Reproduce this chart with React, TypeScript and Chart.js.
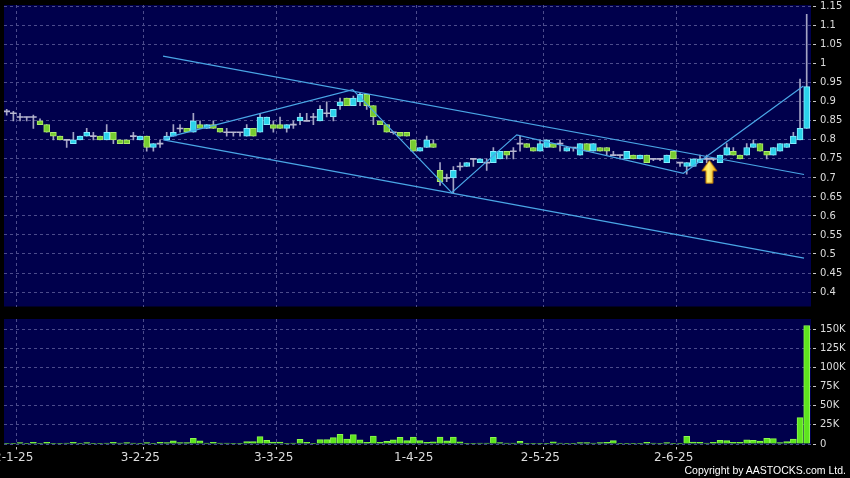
import React, { useEffect, useRef } from 'react';
import { Chart, registerables } from 'chart.js';

Chart.register(...registerables);

// ---------- data ----------
const OPEN = [
  0.875, 0.87, 0.86, 0.86, 0.86, 0.85, 0.84, 0.82, 0.81, 0.8,
  0.79, 0.8, 0.81, 0.81, 0.81, 0.8, 0.82, 0.8, 0.8, 0.81,
  0.8, 0.81, 0.78, 0.79, 0.8, 0.81, 0.83, 0.83, 0.82, 0.84,
  0.83, 0.84, 0.83, 0.82, 0.82, 0.82, 0.81, 0.83, 0.82, 0.84,
  0.84, 0.84, 0.83, 0.84, 0.85, 0.85, 0.86, 0.85, 0.87, 0.86,
  0.89, 0.91, 0.89, 0.9, 0.92, 0.89, 0.85, 0.84, 0.82, 0.82,
  0.82, 0.8, 0.77, 0.78, 0.79, 0.72, 0.7, 0.7, 0.73, 0.73,
  0.75, 0.74, 0.74, 0.74, 0.75, 0.77, 0.77, 0.79, 0.79, 0.78,
  0.77, 0.78, 0.79, 0.79, 0.77, 0.78, 0.76, 0.79, 0.77, 0.78,
  0.78, 0.76, 0.76, 0.75, 0.76, 0.75, 0.76, 0.75, 0.75, 0.74,
  0.77, 0.74, 0.73, 0.73, 0.74, 0.75, 0.75, 0.74, 0.76, 0.77,
  0.76, 0.76, 0.78, 0.79, 0.77, 0.76, 0.77, 0.78, 0.79, 0.8,
  0.83,
];
const HIGH = [
  0.88, 0.875, 0.87, 0.86, 0.865, 0.855, 0.84, 0.82, 0.81, 0.8,
  0.82, 0.81, 0.83, 0.82, 0.81, 0.84, 0.82, 0.8, 0.8, 0.82,
  0.81, 0.81, 0.79, 0.8, 0.82, 0.84, 0.84, 0.83, 0.87, 0.85,
  0.84, 0.85, 0.83, 0.83, 0.82, 0.82, 0.84, 0.83, 0.87, 0.86,
  0.85, 0.86, 0.84, 0.85, 0.87, 0.87, 0.87, 0.89, 0.9, 0.88,
  0.91, 0.91, 0.915, 0.925, 0.92, 0.89, 0.85, 0.84, 0.82, 0.82,
  0.82, 0.8, 0.78, 0.81, 0.8, 0.74, 0.71, 0.73, 0.74, 0.74,
  0.75, 0.75, 0.75, 0.78, 0.77, 0.77, 0.78, 0.81, 0.79, 0.78,
  0.8, 0.8, 0.79, 0.8, 0.78, 0.78, 0.79, 0.79, 0.79, 0.78,
  0.78, 0.77, 0.76, 0.77, 0.76, 0.76, 0.76, 0.75, 0.75, 0.76,
  0.77, 0.74, 0.74, 0.75, 0.76, 0.76, 0.75, 0.76, 0.79, 0.78,
  0.76, 0.79, 0.8, 0.79, 0.77, 0.78, 0.79, 0.79, 0.82, 0.96,
  1.13,
];
const LOW = [
  0.865, 0.85, 0.85, 0.85, 0.83, 0.84, 0.82, 0.8, 0.8, 0.78,
  0.79, 0.8, 0.81, 0.8, 0.8, 0.8, 0.79, 0.79, 0.79, 0.8,
  0.8, 0.77, 0.77, 0.78, 0.8, 0.81, 0.82, 0.82, 0.82, 0.83,
  0.83, 0.83, 0.82, 0.81, 0.81, 0.81, 0.81, 0.81, 0.82, 0.84,
  0.82, 0.83, 0.82, 0.83, 0.84, 0.85, 0.84, 0.85, 0.86, 0.85,
  0.88, 0.89, 0.89, 0.89, 0.88, 0.84, 0.84, 0.82, 0.815, 0.81,
  0.81, 0.77, 0.77, 0.78, 0.78, 0.68, 0.69, 0.66, 0.72, 0.73,
  0.73, 0.74, 0.72, 0.74, 0.75, 0.75, 0.75, 0.77, 0.78, 0.77,
  0.77, 0.78, 0.78, 0.77, 0.77, 0.77, 0.76, 0.77, 0.77, 0.77,
  0.76, 0.76, 0.75, 0.75, 0.75, 0.75, 0.74, 0.745, 0.745, 0.74,
  0.75, 0.73, 0.71, 0.73, 0.74, 0.74, 0.745, 0.74, 0.76, 0.76,
  0.75, 0.76, 0.78, 0.77, 0.75, 0.76, 0.77, 0.78, 0.79, 0.8,
  0.83,
];
const CLOSE = [
  0.875, 0.87, 0.86, 0.86, 0.86, 0.84, 0.82, 0.81, 0.8, 0.8,
  0.8, 0.81, 0.82, 0.81, 0.8, 0.82, 0.8, 0.79, 0.79, 0.81,
  0.81, 0.78, 0.79, 0.79, 0.81, 0.82, 0.83, 0.82, 0.85, 0.83,
  0.84, 0.83, 0.82, 0.82, 0.82, 0.82, 0.83, 0.81, 0.86, 0.86,
  0.83, 0.83, 0.84, 0.84, 0.86, 0.85, 0.86, 0.88, 0.87, 0.88,
  0.9, 0.89, 0.91, 0.92, 0.89, 0.86, 0.84, 0.82, 0.82, 0.81,
  0.81, 0.77, 0.78, 0.8, 0.78, 0.69, 0.7, 0.72, 0.73, 0.74,
  0.75, 0.75, 0.74, 0.77, 0.77, 0.76, 0.77, 0.79, 0.78, 0.77,
  0.79, 0.8, 0.78, 0.79, 0.78, 0.78, 0.79, 0.77, 0.79, 0.77,
  0.77, 0.76, 0.76, 0.77, 0.75, 0.76, 0.74, 0.75, 0.75, 0.76,
  0.75, 0.74, 0.74, 0.75, 0.75, 0.75, 0.75, 0.76, 0.78, 0.76,
  0.75, 0.78, 0.79, 0.77, 0.76, 0.78, 0.79, 0.79, 0.81, 0.83,
  0.94,
];
// volume in thousands of shares
const VOLUME = [
  0.5, 0.3, 1.8, 0.3, 2.2, 0.9, 2.2, 0.9, 0.3, 1.3,
  2.2, 0.9, 1.8, 0.3, 0.9, 1.3, 2.2, 1.3, 1.8, 1.3,
  0.3, 1.8, 0.9, 2.2, 1.8, 4, 1.8, 1.8, 7.5, 4,
  1.3, 2.2, 1.3, 1.3, 0.9, 0.9, 3.1, 3.1, 9.6, 4.8,
  2.6, 2.6, 0.9, 1.3, 6.1, 2.2, 0.9, 5.7, 5.7, 8.3,
  12.7, 6.6, 12.3, 5.3, 2.2, 10.5, 2.2, 3.5, 5.3, 8.8,
  4.4, 9.2, 4.4, 2.2, 3, 9.2, 4, 9.2, 3, 0.5,
  0.5, 1.3, 1.3, 8.8, 1.8, 1.3, 1.3, 3.5, 0.5, 0.5,
  0.9, 0.5, 3, 1.3, 0.5, 0.3, 1.8, 1.8, 1.3, 1.8,
  2.2, 4.4, 0.9, 0.9, 0.9, 0.9, 2.2, 1.3, 0.9, 1.8,
  0.9, 0.5, 10, 2.6, 2.2, 1.3, 2.2, 4.8, 4.4, 2.2,
  2.2, 5.3, 4.8, 3.9, 7.5, 7, 1.8, 3.1, 6.6, 34.6,
  155,
];

const PRICE_TICKS = [0.4, 0.45, 0.5, 0.55, 0.6, 0.65, 0.7, 0.75, 0.8, 0.85, 0.9, 0.95, 1, 1.05, 1.1, 1.15];
const VOLUME_TICKS = [0, 25, 50, 75, 100, 125, 150];
const DATE_TICK_POS = [1.5, 20.5, 40.5, 61.5, 80.5, 100.5];
const DATE_LABELS = ['2-1-25', '3-2-25', '3-3-25', '1-4-25', '2-5-25', '2-6-25'];

// trend lines drawn on the chart (x = trading-day index, y = price)
const UPPER_CHANNEL = [{ x: 23.45, y: 1.02 }, { x: 119.6, y: 0.709 }];
const LOWER_CHANNEL = [{ x: 23.5, y: 0.8 }, { x: 119.6, y: 0.489 }];
const SWING_LINE = [
  { x: 23.5, y: 0.804 }, { x: 51.9, y: 0.932 }, { x: 66.75, y: 0.661 },
  { x: 76.5, y: 0.813 }, { x: 101.5, y: 0.712 }, { x: 119.5, y: 0.9415 },
];
const ARROW_MARK = [{ x: 105.4, y: 0.716 }];

// ---------- styling ----------
const BG_OUT = '#000000';
const BG_PLOT = '#00004c';
const GRID = '#4c4c8c';
const TICK_COLOR = '#c8c8c8';
const TEXT = '#dcdcdc';
const UP_FILL = '#2ad2ea';
const UP_BORDER = '#86eeff';
const DOWN_FILL = '#76cc30';
const DOWN_BORDER = '#aeea6c';
const WICK = '#a4a4c4';
const DOJI = '#b8b8d0';
const LINE = '#4aa6e6';
const VOL_FILL = '#5ee41e';
const VOL_BORDER = '#8cf850';

const X_MIN = -0.405;
const X_MAX = 120.645;

function fixBox(w?: number, h?: number) {
  return (scale: any) => {
    if (w !== undefined) scale.width = w;
    if (h !== undefined) scale.height = h;
    scale.paddingLeft = 0;
    scale.paddingRight = 0;
    scale.paddingTop = 0;
    scale.paddingBottom = 0;
  };
}

const bgPlugin = {
  id: 'panelBg',
  beforeDraw(chart: any) {
    const { ctx, chartArea: a, width, height } = chart;
    ctx.save();
    ctx.fillStyle = BG_OUT;
    ctx.fillRect(0, 0, width, height);
    ctx.fillStyle = BG_PLOT;
    ctx.fillRect(a.left, a.top, a.right - a.left, a.bottom - a.top);
    ctx.restore();
  },
};

function makeArrow(): HTMLCanvasElement {
  const c = document.createElement('canvas');
  c.width = 17;
  c.height = 25;
  const g = c.getContext('2d')!;
  g.beginPath();
  g.moveTo(8.5, 1);
  g.lineTo(16, 11.5);
  g.lineTo(12, 11.5);
  g.lineTo(12, 24);
  g.lineTo(5, 24);
  g.lineTo(5, 11.5);
  g.lineTo(1, 11.5);
  g.closePath();
  const grad = g.createLinearGradient(0, 0, 17, 0);
  grad.addColorStop(0, '#ffc400');
  grad.addColorStop(0.45, '#fff27a');
  grad.addColorStop(1, '#f0a200');
  g.fillStyle = grad;
  g.fill();
  g.strokeStyle = '#b87000';
  g.lineWidth = 1;
  g.stroke();
  return c;
}

const xGrid = { color: GRID, lineWidth: 1, offset: false };
const dashBorder = { display: false, dash: [3, 3] };

export default function App() {
  const priceRef = useRef<HTMLCanvasElement>(null);
  const volRef = useRef<HTMLCanvasElement>(null);

  useEffect(() => {
    document.body.style.margin = '0';
    document.body.style.background = '#000';

    const wickData = OPEN.map((_, i) => ({ x: i, y: [LOW[i], HIGH[i]] }));
    const upData: any[] = [];
    const downData: any[] = [];
    const dojiData: any[] = [];
    OPEN.forEach((o, i) => {
      const c = CLOSE[i];
      if (c > o) upData.push({ x: i, y: [o, c] });
      else if (c < o) downData.push({ x: i, y: [c, o] });
      else dojiData.push({ x: i, y: [c - 0.0013, c + 0.0013] });
    });

    const priceChart = new Chart(priceRef.current!, {
      type: 'bar',
      data: {
        datasets: [
          { type: 'line', data: ARROW_MARK, showLine: false, pointStyle: makeArrow() as any, pointRadius: 8, order: 1 } as any,
          { type: 'line', data: UPPER_CHANNEL, borderColor: LINE, borderWidth: 1.2, pointRadius: 0, fill: false, order: 2 } as any,
          { type: 'line', data: LOWER_CHANNEL, borderColor: LINE, borderWidth: 1.2, pointRadius: 0, fill: false, order: 2 } as any,
          { type: 'line', data: SWING_LINE, borderColor: LINE, borderWidth: 1.2, pointRadius: 0, fill: false, order: 2 } as any,
          { data: upData, backgroundColor: UP_FILL, borderColor: UP_BORDER, borderWidth: 1, borderSkipped: false, barThickness: 6, grouped: false, order: 4 } as any,
          { data: downData, backgroundColor: DOWN_FILL, borderColor: DOWN_BORDER, borderWidth: 1, borderSkipped: false, barThickness: 6, grouped: false, order: 4 } as any,
          { data: dojiData, backgroundColor: DOJI, borderWidth: 0, barThickness: 6, grouped: false, order: 4 } as any,
          { data: wickData, backgroundColor: WICK, borderWidth: 0, barThickness: 1, grouped: false, order: 6 } as any,
        ],
      },
      options: {
        responsive: false,
        animation: false,
        events: [],
        layout: { autoPadding: false, padding: { left: 4, top: 5, right: 0, bottom: 5.5 } },
        plugins: { legend: { display: false }, tooltip: { enabled: false } },
        scales: {
          x: {
            type: 'linear',
            min: X_MIN,
            max: X_MAX,
            offset: false,
            afterBuildTicks: (s: any) => { s.ticks = DATE_TICK_POS.map((v) => ({ value: v })); },
            afterFit: fixBox(undefined, 0),
            grid: { ...xGrid, drawTicks: false },
            border: dashBorder,
            ticks: { display: false },
          },
          y: {
            position: 'right',
            min: 0.362,
            max: 1.1545,
            afterBuildTicks: (s: any) => { s.ticks = PRICE_TICKS.map((v) => ({ value: v })); },
            afterFit: fixBox(39, undefined),
            grid: { color: GRID, lineWidth: 1, tickLength: 5, tickColor: TICK_COLOR, tickBorderDash: [0, 2, 3, 10] },
            border: dashBorder,
            ticks: {
              color: TEXT,
              font: { family: 'DejaVu Sans', size: 10 },
              padding: 4,
              autoSkip: false,
              callback: (v: any) => String(Number(Number(v).toFixed(2))),
            },
          },
        },
      } as any,
      plugins: [bgPlugin],
    });

    const volChart = new Chart(volRef.current!, {
      type: 'bar',
      data: {
        datasets: [
          {
            data: VOLUME.map((v, i) => ({ x: i, y: v })),
            backgroundColor: VOL_FILL,
            borderColor: VOL_BORDER,
            borderWidth: 1,
            borderSkipped: 'start',
            barThickness: 6,
          } as any,
        ],
      },
      options: {
        responsive: false,
        animation: false,
        events: [],
        layout: { autoPadding: false, padding: { left: 4, top: 7, right: 0, bottom: 13.5 } },
        plugins: { legend: { display: false }, tooltip: { enabled: false } },
        scales: {
          x: {
            type: 'linear',
            min: X_MIN,
            max: X_MAX,
            offset: false,
            afterBuildTicks: (s: any) => { s.ticks = DATE_TICK_POS.map((v) => ({ value: v })); },
            afterFit: fixBox(undefined, 20),
            grid: { ...xGrid, tickLength: 5, tickColor: TICK_COLOR, tickBorderDash: [0, 2, 3, 10] },
            border: dashBorder,
            ticks: {
              color: TEXT,
              font: { family: 'DejaVu Sans', size: 12 },
              padding: 1,
              labelOffset: -3,
              autoSkip: false,
              maxRotation: 0,
              callback: (_v: any, i: number) => DATE_LABELS[i],
            },
          },
          y: {
            position: 'right',
            min: -0.65,
            max: 163.5,
            afterBuildTicks: (s: any) => { s.ticks = VOLUME_TICKS.map((v) => ({ value: v })); },
            afterFit: fixBox(39, undefined),
            grid: { color: GRID, lineWidth: 1, tickLength: 5, tickColor: TICK_COLOR, tickBorderDash: [0, 2, 3, 10] },
            border: dashBorder,
            ticks: {
              color: TEXT,
              font: { family: 'DejaVu Sans', size: 10 },
              padding: 4,
              autoSkip: false,
              callback: (v: any) => (Number(v) === 0 ? '0' : `${v}K`),
            },
          },
        },
      } as any,
      plugins: [bgPlugin],
    });

    return () => {
      priceChart.destroy();
      volChart.destroy();
    };
  }, []);

  return (
    <div style={{ position: 'relative', width: 850, height: 478, background: '#000', overflow: 'hidden' }}>
      <canvas ref={priceRef} width={850} height={312} style={{ position: 'absolute', left: 0, top: 0, display: 'block' }} />
      <canvas ref={volRef} width={850} height={166} style={{ position: 'absolute', left: 0, top: 312, display: 'block' }} />
      <div
        style={{
          position: 'absolute',
          right: 4,
          top: 464,
          color: '#ffffff',
          font: '10.5px "Liberation Sans", Arial, sans-serif',
          lineHeight: '13px',
          whiteSpace: 'nowrap',
        }}
      >
        Copyright by AASTOCKS.com Ltd.
      </div>
    </div>
  );
}
